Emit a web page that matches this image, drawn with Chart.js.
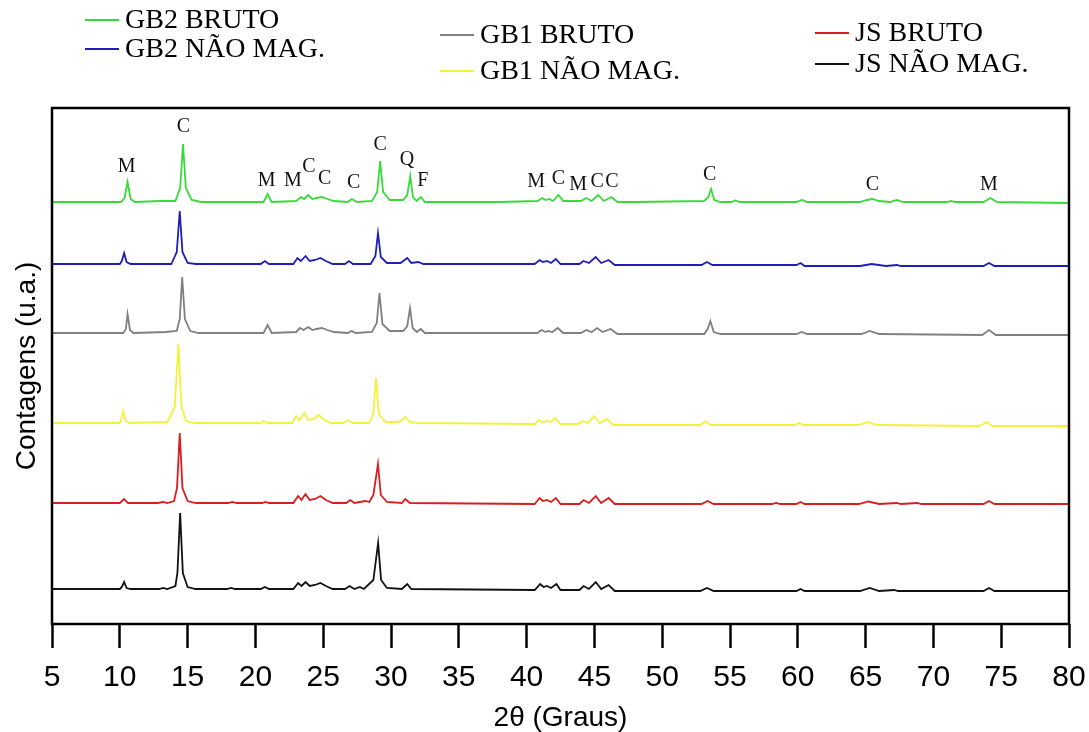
<!DOCTYPE html>
<html>
<head>
<meta charset="utf-8">
<script src="https://cdn.jsdelivr.net/npm/chart.js@4/dist/chart.umd.min.js"></script>
<style>
  body { margin: 0; background: #fff; }
  #wrap { position: relative; width: 1089px; height: 732px; }
  .lg { position: absolute; font: 28px "Liberation Serif", "Times New Roman", serif; color: #000; line-height: 28px; white-space: nowrap; }
  .lg i { display: inline-block; width: 34px; height: 2px; vertical-align: middle; margin-right: 6px; position: relative; top: -2px; }
</style>
</head>
<body>
<div id="wrap">
  <canvas id="xrd"></canvas>
  <div id="legend"></div>
</div>
<script>
// 2θ range
const xMin = 5, xMax = 80, xStep = 5;
const yMax = 516;

// legend names / colors / stack offsets
const seriesNames = ["GB2 BRUTO", "GB2 NÃO MAG.", "GB1 BRUTO", "GB1 NÃO MAG.", "JS BRUTO", "JS NÃO MAG."];
const seriesColors = ["#38da38", "#1f1fb8", "#808080", "#f2f23a", "#d81e1e", "#111111"];
const seriesOffsets = [422, 360, 291, 201, 121, 35];

// intensities above each baseline, [2θ, counts]
const gb2Bruto = [[5,0],[10.1,0],[10.35,4],[10.57,20],[10.8,3],[11.1,0],
  [13.0,1],[14.1,1],[14.45,14],[14.66,58],[14.87,14],[15.3,2],[16,0],
  [20.6,0],[20.9,8],[21.2,0],
  [23.0,1],[23.37,5],[23.6,3],[23.89,7],[24.2,3],[24.5,4],[24.9,5],[25.3,3],[25.8,1],
  [26.8,0],[27.12,3],[27.5,0],
  [28.6,1],[28.98,10],[29.2,41],[29.42,10],[29.9,2],
  [30.9,2],[31.2,7],[31.42,26],[31.62,5],[31.9,1],[32.2,5],[32.5,0],
  [38,0],[40.8,1],[41.16,4],[41.4,2],[41.66,3],[41.95,1],[42.35,7],[42.7,1],
  [44.0,1],[44.4,4],[44.8,1],[45.28,7],[45.7,1],[46.25,5],[46.7,0],
  [48,0],[53.1,1],[53.4,5],[53.6,13],[53.85,2],[54.3,0],
  [55.1,0],[55.4,1.5],[55.7,0],
  [59.9,0],[60.3,2],[60.7,0],
  [64.6,0],[65.1,2],[65.5,3],[66.0,1],[66.8,0],[67.3,2],[67.8,0],
  [71.0,0],[71.3,1],[71.6,0],
  [73.7,0],[74.2,4],[74.7,0],[80,-1]];

const gb2NaoMag = [[5,0],[10.0,0],[10.15,3],[10.32,11],[10.5,2],[10.8,0],
  [13.8,0],[14.2,12],[14.42,53],[14.62,12],[15.0,1],[15.6,0],
  [20.4,0],[20.7,3],[21.0,0],
  [22.8,0],[23.1,6],[23.35,3],[23.7,8],[24.0,3],[24.4,4],[24.8,6],[25.2,3],[25.7,0],
  [26.6,0],[26.9,3],[27.2,0],
  [28.5,0],[28.85,8],[29.04,31],[29.25,7],[29.7,1],
  [30.7,1],[31.2,6],[31.5,1],[32.0,2],[32.4,0],
  [40.6,0],[40.96,4],[41.2,2],[41.5,3],[41.8,1],[42.16,5],[42.5,0],
  [43.9,0],[44.2,3],[44.6,1],[45.1,7],[45.5,1],[46.05,4],[46.5,-1],
  [52.9,-1],[53.3,2],[53.7,-1],
  [59.9,-1],[60.2,1],[60.5,-2],
  [64.6,-2],[65.45,0],[66.5,-2],[67.3,-1],[67.6,-2],
  [73.7,-2],[74.1,1],[74.5,-2],[80,-2]];

const gb1Bruto = [[5,0],[10.25,0],[10.45,4],[10.57,19],[10.75,3],[11.0,0],
  [13.4,1],[14.2,2],[14.42,14],[14.6,56],[14.8,14],[15.2,2],[15.8,0],
  [20.6,0],[20.9,8],[21.2,0],
  [23.0,1],[23.3,5],[23.55,3],[23.9,6],[24.2,3],[24.5,4],[24.9,5],[25.3,3],[25.8,1],
  [26.8,0],[27.1,2],[27.4,0],
  [28.6,1],[28.95,10],[29.15,40],[29.37,9],[29.9,2],
  [30.9,2],[31.2,7],[31.4,25],[31.6,5],[31.9,1],[32.2,4],[32.5,0],
  [40.8,0],[41.1,3],[41.4,1],[41.6,2],[41.9,1],[42.3,5],[42.7,0],
  [44.0,0],[44.4,3],[44.8,1],[45.2,5],[45.6,1],[46.2,4],[46.7,-1],
  [53.1,-1],[53.35,4],[53.55,12],[53.8,1],[54.3,-1],
  [59.9,-1],[60.3,1],[60.7,-1],
  [64.7,-1],[65.3,2],[66.0,-1],
  [73.6,-2],[74.1,3],[74.6,-2],[80,-2]];

const gb1NaoMag = [[5,0],[9.95,0],[10.1,3],[10.25,12],[10.42,2],[10.7,0],
  [13.5,1],[14.05,16],[14.32,79],[14.55,16],[14.9,2],[15.5,0],
  [20.4,0],[20.62,2],[20.9,0],
  [22.7,0],[23.0,7],[23.25,3],[23.6,10],[23.9,3],[24.3,4],[24.67,8],[25.1,3],[25.6,0],
  [26.5,0],[26.83,3],[27.2,0],
  [28.4,0],[28.7,10],[28.9,45],[29.1,9],[29.6,1],
  [30.6,1],[31.05,6],[31.4,1],[32.0,0],
  [40.6,-1],[40.9,3],[41.2,1],[41.5,2],[41.8,1],[42.1,5],[42.5,-1],
  [43.8,-1],[44.1,2],[44.5,0],[45.0,7],[45.4,0],[45.9,4],[46.4,-2],
  [52.8,-2],[53.2,2],[53.6,-2],
  [59.8,-2],[60.1,0],[60.4,-2],
  [64.5,-2],[65.1,1],[65.9,-2],
  [73.4,-3],[73.9,1],[74.4,-3],[80,-3]];

const jsBruto = [[5,0],[10.0,0],[10.32,4],[10.6,0],
  [12.8,0],[13.2,1],[13.5,0],[14.0,2],[14.22,15],[14.42,70],[14.62,15],[15.0,2],[15.6,0],
  [18.0,0],[18.3,1],[18.6,0],
  [20.5,0],[20.75,1],[21.0,0],
  [22.8,0],[23.15,7],[23.4,3],[23.69,9],[24.0,3],[24.4,4],[24.8,7],[25.2,3],[25.7,0],
  [26.7,0],[27.0,3],[27.3,0],[27.7,1],[28.1,2],[28.4,1],
  [28.7,8],[29.04,39],[29.25,8],[29.7,1],
  [30.8,0],[31.05,4],[31.4,0],
  [40.6,-1],[40.96,5],[41.2,2],[41.5,3],[41.8,1],[42.16,5],[42.5,-1],
  [43.9,-1],[44.2,3],[44.6,0],[45.1,7],[45.5,0],[46.05,5],[46.5,-1],
  [52.9,-1],[53.35,2],[53.8,-1],
  [58.1,-1],[58.4,0],[58.7,-1],
  [59.9,-1],[60.2,1],[60.5,-1],
  [64.5,-1],[65.2,1.5],[66.0,-1],[67.3,0],[67.6,-1],[68.8,0],[69.1,-1],
  [73.7,-1],[74.1,2],[74.5,-1],[80,-1]];

const jsNaoMag = [[5,0],[10.0,0],[10.15,2],[10.32,7],[10.5,1],[10.8,0],
  [12.9,0],[13.2,1],[13.5,0],[14.1,3],[14.25,16],[14.45,76],[14.65,16],[15.0,2],[15.6,0],
  [17.9,0],[18.2,1],[18.5,0],
  [20.4,0],[20.7,2],[21.0,0],
  [22.8,0],[23.15,6],[23.4,3],[23.7,7],[24.0,3],[24.4,4],[24.8,6],[25.2,3],[25.7,0],
  [26.6,0],[26.95,3],[27.3,0],[27.7,2],[28.0,0],
  [28.7,9],[29.05,46],[29.27,9],[29.7,1],
  [30.8,0],[31.2,5],[31.5,0],
  [40.6,-1],[41.0,5],[41.25,2],[41.5,3],[41.8,1],[42.2,5],[42.5,-1],
  [43.9,-1],[44.2,3],[44.6,0],[45.1,7],[45.5,0],[46.05,4],[46.5,-2],
  [52.8,-2],[53.3,1],[53.8,-2],
  [59.9,-2],[60.2,0],[60.5,-2],
  [64.6,-2],[65.3,1],[66.0,-2],[67.1,-1],[67.4,-2],
  [73.7,-2],[74.1,1],[74.5,-2],[80,-2]];

const seriesData = [gb2Bruto, gb2NaoMag, gb1Bruto, gb1NaoMag, jsBruto, jsNaoMag];

// phase labels over the top pattern
const phaseText = ["M","C","M","M","C","C","C","C","Q","F","M","C","M","C","C","C","C","M"];
const phaseX = [10.5,14.69,20.82,22.76,23.94,25.1,27.25,29.2,31.17,32.35,40.7,42.35,43.8,45.2,46.3,53.5,65.5,74.1];
const phaseY = [457,497,443,443,457,445,441,479,464,443,442,445,439,442,442,449,439,439];

// legend placement
const legendLeft = [85, 85, 440, 440, 815, 815];
const legendTop = [19, 48, 34, 70, 32, 63];

const legendBox = document.getElementById("legend");
seriesNames.forEach((n, i) => {
  const d = document.createElement("div");
  d.className = "lg";
  d.style.left = legendLeft[i] + "px";
  d.style.top = (legendTop[i] - 14) + "px";
  d.innerHTML = "<i style='background:" + seriesColors[i] + "'></i>" + n;
  legendBox.appendChild(d);
});

const framePlugin = {
  id: "frame",
  afterDraw(chart) {
    const { ctx, chartArea: a } = chart;
    ctx.save();
    ctx.strokeStyle = "#000";
    ctx.lineWidth = 2.5;
    ctx.strokeRect(a.left, a.top, a.right - a.left, a.bottom - a.top);
    ctx.restore();
  }
};

const phasePlugin = {
  id: "phases",
  afterDatasetsDraw(chart) {
    const { ctx, scales } = chart;
    ctx.save();
    ctx.fillStyle = "#111";
    ctx.font = "20px 'Liberation Serif', 'Times New Roman', serif";
    ctx.textAlign = "center";
    ctx.textBaseline = "middle";
    phaseText.forEach((t, i) => {
      ctx.fillText(t, scales.x.getPixelForValue(phaseX[i]), scales.y.getPixelForValue(phaseY[i]));
    });
    ctx.restore();
  }
};

new Chart(document.getElementById("xrd"), {
  type: "line",
  data: {
    datasets: seriesData.map((pts, i) => ({
      label: seriesNames[i],
      data: pts.map(p => ({ x: p[0], y: p[1] + seriesOffsets[i] })),
      borderColor: seriesColors[i],
      borderWidth: 1.8,
      pointRadius: 0,
      tension: 0,
      fill: false
    }))
  },
  options: {
    responsive: true,
    maintainAspectRatio: false,
    animation: false,
    layout: { padding: { top: 108, right: 20, left: 0, bottom: 0 } },
    plugins: { legend: { display: false }, tooltip: { enabled: false } },
    scales: {
      x: {
        type: "linear", min: xMin, max: xMax,
        afterFit(s) { s.height = 108; s.paddingLeft = 0; s.paddingRight = 0; },
        border: { display: false },
        grid: { drawOnChartArea: false, drawTicks: true, tickLength: 24, tickWidth: 2.5, tickColor: "#000" },
        ticks: { stepSize: xStep, color: "#000", padding: 12, font: { family: "'Liberation Sans', Arial, sans-serif", size: 30 } },
        title: { display: true, text: "2θ (Graus)", color: "#000", padding: { top: 0, bottom: 0 }, font: { family: "'Liberation Sans', Arial, sans-serif", size: 28, lineHeight: 1 } }
      },
      y: {
        min: 0, max: yMax,
        afterFit(s) { s.width = 52; },
        border: { display: false },
        grid: { display: false },
        ticks: { display: false },
        title: { display: true, text: "Contagens (u.a.)", color: "#000", padding: { top: 10, bottom: 0 }, font: { family: "'Liberation Sans', Arial, sans-serif", size: 28 } }
      }
    }
  },
  plugins: [framePlugin, phasePlugin]
});
</script>
</body>
</html>
